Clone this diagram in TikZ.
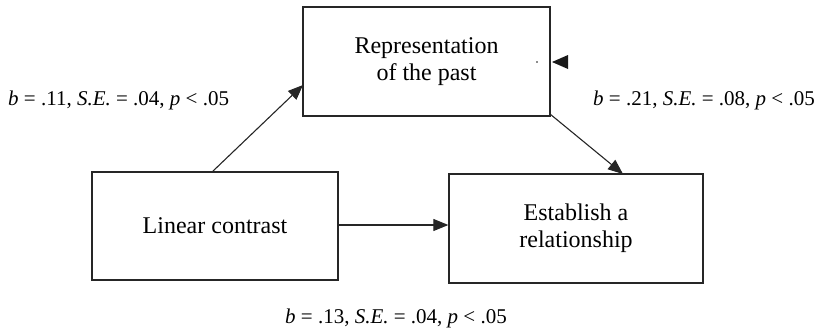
\documentclass[tikz,border=0pt]{standalone}
\usepackage{fontspec}
\setmainfont{Liberation Serif}
\usetikzlibrary{arrows.meta}
\tikzset{
  box/.style={draw=black!85, line width=1.3pt, rectangle, align=center, inner sep=0pt,
    font=\fontsize{24}{27}\selectfont},
  conn/.style={draw=black!85, line width=1.1pt, -{Triangle[length=15pt,width=12pt]}},
  lab/.style={font=\fontsize{21}{24}\selectfont, inner sep=0pt}
}
\begin{document}
\begin{tikzpicture}[x=1pt,y=-1pt]
\useasboundingbox (0,0) rectangle (826,333);
\node[box, minimum width=247pt, minimum height=109pt] (rep) at (426.5,61.5) {\raisebox{-2pt}{\begin{tabular}{@{}c@{}}Representation\\of the past\end{tabular}}};
\node[box, minimum width=246pt, minimum height=108pt] (lin) at (215,226) {Linear contrast};
\node[box, minimum width=254pt, minimum height=109pt] (est) at (576,228.5) {Establish a\\relationship};
\coordinate (a1) at (212,172);
\coordinate (a2) at (303,85);
\coordinate (b1) at (550,114);
\coordinate (b2) at (623,174);
\draw[conn] (a1) -- (a2);
\draw[conn] (b1) -- (b2);
\draw[conn] (lin.east |- 0,225) -- (est.west |- 0,225);
\coordinate (tip) at (552,62);
\fill[black!90] (tip) -- (568,55) -- (568,69) -- cycle;
\fill[black!90] (537,62) circle (0.8pt);
\node[lab, anchor=west] (l1) at (8,100) {\textit{b} = .11, \textit{S.E.} = .04, \textit{p} < .05};
\node[lab, anchor=west] (l2) at (593,100) {\textit{b} = .21, \textit{S.E.} = .08, \textit{p} < .05};
\node[lab, anchor=west] (l3) at (285,318) {\textit{b} = .13, \textit{S.E.} = .04, \textit{p} < .05};
\end{tikzpicture}
\end{document}
